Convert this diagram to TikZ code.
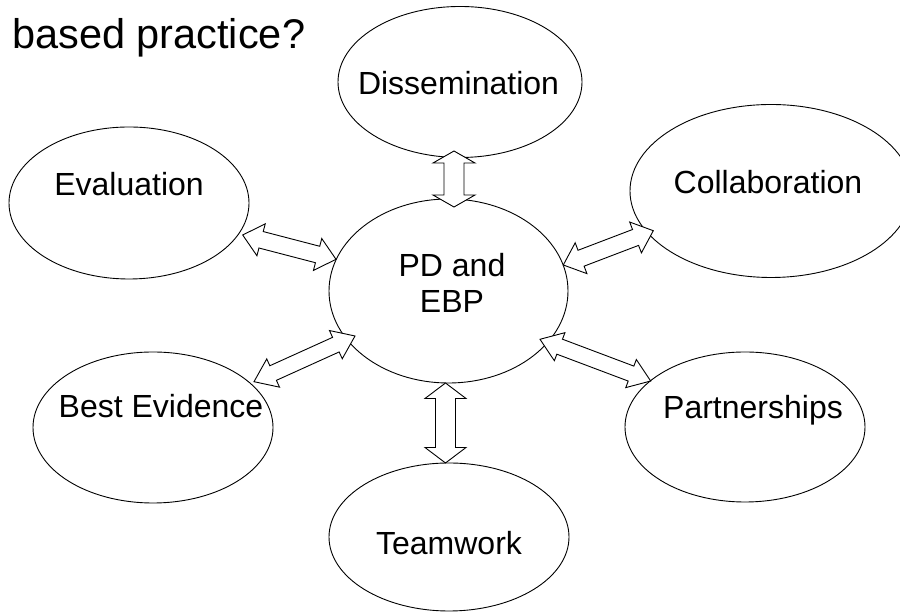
\documentclass[tikz,border=0pt]{standalone}
\usepackage{fontspec}
\setmainfont{Liberation Sans}
\usetikzlibrary{calc,shapes.geometric}
\tikzset{
  bubble/.style={ellipse, draw=black, line width=0.9pt, fill=white, inner sep=0pt},
  lbl/.style={font=\fontsize{32}{36}\selectfont, inner sep=0pt, anchor=base},
  blockarr/.style={draw=black, line width=0.9pt, fill=white, line join=miter},
}
% #1 tip A, #2 tip B, #3 shaft half width, #4 head half width, #5 head length
\newcommand\blockarrow[5]{%
  \draw[blockarr] let \p1=(#1), \p2=(#2),
      \n1={atan2(\y2-\y1,\x2-\x1)}, \n2={veclen(\x2-\x1,\y2-\y1)} in
    (\p1)
    -- ($(\p1)+({\n1}:{#5})+({\n1+90}:{#4})$)
    -- ($(\p1)+({\n1}:{#5})+({\n1+90}:{#3})$)
    -- ($(\p1)+({\n1}:{\n2-#5})+({\n1+90}:{#3})$)
    -- ($(\p1)+({\n1}:{\n2-#5})+({\n1+90}:{#4})$)
    -- (\p2)
    -- ($(\p1)+({\n1}:{\n2-#5})+({\n1-90}:{#4})$)
    -- ($(\p1)+({\n1}:{\n2-#5})+({\n1-90}:{#3})$)
    -- ($(\p1)+({\n1}:{#5})+({\n1-90}:{#3})$)
    -- ($(\p1)+({\n1}:{#5})+({\n1-90}:{#4})$)
    -- cycle;}
\begin{document}
\begin{tikzpicture}[x=1pt,y=1pt]
  \clip (0,0) rectangle (900,612);
  \fill[white] (0,0) rectangle (900,612);

  % title
  \node[font=\fontsize{41.5}{48}\selectfont, inner sep=0pt, anchor=base west] (title) at (12,563) {based practice?};

  % ellipses
  \node[bubble, minimum width=244pt, minimum height=151pt] (dis) at (460,530) {};
  \node[bubble, minimum width=240pt, minimum height=152pt] (ev)  at (129,409) {};
  \node[bubble, minimum width=282pt, minimum height=173pt] (col) at (771,421) {};
  \node[bubble, minimum width=239pt, minimum height=184pt] (pd)  at (448.5,321) {};
  \node[bubble, minimum width=240pt, minimum height=151pt] (be)  at (153,184.5) {};
  \node[bubble, minimum width=240pt, minimum height=150pt] (pa)  at (745,185) {};
  \node[bubble, minimum width=240pt, minimum height=148pt] (tw)  at (449,75) {};

  % texts
  \node[lbl] (dist) at (458.5,517) {Dissemination};
  \node[lbl] (evt)  at (129,416) {Evaluation};
  \node[lbl] (colt) at (768,418) {Collaboration};
  \node[font=\fontsize{32}{36}\selectfont, inner sep=0pt, align=center] (pdt) at (452,329) {PD and\\EBP};
  \node[lbl] (bet)  at (161,194) {Best Evidence};
  \node[lbl] (pat)  at (753,193) {Partnerships};
  \node[lbl] (twt)  at (449,57) {Teamwork};

  % arrow tips
  \coordinate (dA) at (454,461);   \coordinate (dB) at (454,405);
  \coordinate (tA) at (445.5,229); \coordinate (tB) at (445.5,149);
  \coordinate (eA) at (242.7,377); \coordinate (eB) at (336,352.7);
  \coordinate (cA) at (653.3,381.3); \coordinate (cB) at (563.3,347);
  \coordinate (bA) at (254,230.3); \coordinate (bB) at (355,276);
  \coordinate (pA) at (540,272.7); \coordinate (pB) at (650.7,231);

  % block double arrows
  \blockarrow{dA}{dB}{10}{21}{12}
  \blockarrow{tA}{tB}{10}{20.5}{15.5}
  \blockarrow{eA}{eB}{8.5}{16.5}{19}
  \blockarrow{cA}{cB}{8.5}{16.5}{19}
  \blockarrow{bA}{bB}{8}{15.5}{21}
  \blockarrow{pA}{pB}{8}{15}{21}
\end{tikzpicture}
\end{document}
